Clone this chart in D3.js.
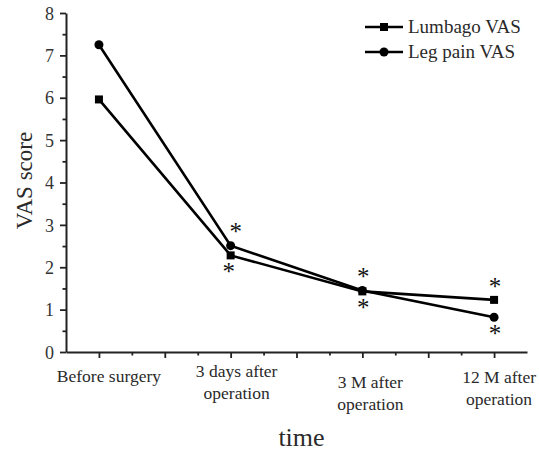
<!DOCTYPE html>
<html>
<head>
<meta charset="utf-8">
<script src="https://cdn.jsdelivr.net/npm/d3@7"></script>
<style>
  html, body { margin: 0; padding: 0; background: #fff; }
  svg { display: block; }
  text { font-family: "Liberation Serif", "Times New Roman", serif; fill: #2a2a2a; }
</style>
</head>
<body>
<svg id="chart" width="539" height="452"></svg>
<script>
// ---- data ----
const categories = [
  ["Before surgery"],
  ["3 days after", "operation"],
  ["3 M after", "operation"],
  ["12 M after", "operation"]
];
const categoryPositions = [1, 3, 5, 7];
const seriesNames = ["Lumbago VAS", "Leg pain VAS"];
const lumbagoVAS = [5.96, 2.28, 1.43, 1.23];
const legPainVAS = [7.25, 2.51, 1.45, 0.82];
const significant = [false, true, true, true];
const yTicks = [0, 1, 2, 3, 4, 5, 6, 7, 8];
const xMajorTicks = [1, 2, 3, 4, 5, 6, 7];

// ---- layout ----
const svg = d3.select("#chart");
const x = d3.scaleLinear().domain([0.5, 7.5]).range([66, 527]);
const y = d3.scaleLinear().domain([0, 8]).range([352, 13]);
const axisColor = "#222";

// y axis
const yAxis = svg.append("g").attr("transform", `translate(${x(0.5)},0)`)
  .call(d3.axisLeft(y).tickValues(yTicks).tickSize(6).tickSizeOuter(0).tickPadding(6).tickFormat(d3.format("d")));
yAxis.attr("font-family", null).attr("font-size", null);
yAxis.selectAll("text")
  .style("font-family", "'Liberation Serif', 'Times New Roman', serif")
  .style("font-size", "18px").style("fill", "#333").attr("dy", "0.34em");
const yMinor = svg.append("g").attr("transform", `translate(${x(0.5)},0)`)
  .call(d3.axisLeft(y).tickValues(d3.range(0.5, 8, 1)).tickSize(3.5).tickFormat(""));
yMinor.select(".domain").remove();

// x axis
const xAxis = svg.append("g").attr("transform", `translate(0,${y(0)})`)
  .call(d3.axisBottom(x).tickValues(xMajorTicks).tickSize(6).tickSizeOuter(0).tickFormat(""));
const xMinor = svg.append("g").attr("transform", `translate(0,${y(0)})`)
  .call(d3.axisBottom(x).tickValues(d3.range(1.5, 7, 1)).tickSize(3.5).tickFormat(""));
xMinor.select(".domain").remove();

svg.selectAll(".domain").attr("stroke", axisColor).attr("stroke-width", 2);
svg.selectAll(".tick line").attr("stroke", axisColor).attr("stroke-width", 1.8);

// category labels (per-label offsets to mimic the original placement)
const labelDx = [10, 6, 8, 5];
const labelBaseline = [382, 377, 388, 383];
categories.forEach((lines, i) => {
  const t = svg.append("text")
    .attr("x", x(categoryPositions[i]) + labelDx[i])
    .attr("y", labelBaseline[i])
    .attr("text-anchor", "middle")
    .style("font-size", "17.5px");
  lines.forEach((ln, j) => {
    t.append("tspan").attr("x", x(categoryPositions[i]) + labelDx[i])
      .attr("dy", j === 0 ? 0 : 22).text(ln);
  });
});

// axis titles
svg.append("text").attr("x", x(4) + 5).attr("y", 446)
  .attr("text-anchor", "middle").style("font-size", "26px").text("time");
svg.append("text")
  .attr("transform", `translate(32,${y(4) - 2}) rotate(-90)`)
  .attr("text-anchor", "middle").style("font-size", "23px").text("VAS score");

// lines
const series = [lumbagoVAS, legPainVAS];
const line = d3.line().x((d, i) => x(categoryPositions[i])).y(d => y(d));
series.forEach(vals => {
  svg.append("path").datum(vals).attr("d", line)
    .attr("fill", "none").attr("stroke", "#000").attr("stroke-width", 2.6);
});
// markers
svg.append("g").selectAll("rect").data(lumbagoVAS).join("rect")
  .attr("x", (d, i) => x(categoryPositions[i]) - 4)
  .attr("y", d => y(d) - 4)
  .attr("width", 8).attr("height", 8).attr("fill", "#000");
svg.append("g").selectAll("circle").data(legPainVAS).join("circle")
  .attr("cx", (d, i) => x(categoryPositions[i]))
  .attr("cy", d => y(d)).attr("r", 4.5).attr("fill", "#000");

// significance asterisks: above the higher point, below the lower point
const astFs = 25;
categoryPositions.forEach((p, i) => {
  if (!significant[i]) return;
  const hi = Math.max(lumbagoVAS[i], legPainVAS[i]);
  const lo = Math.min(lumbagoVAS[i], legPainVAS[i]);
  const cx = x(p) + 1;
  [[y(hi) - 17, i === 1 ? 4 : 0], [y(lo) + 13, i === 1 ? -3 : 0]].forEach(([cy, ddx]) => {
    svg.append("text").attr("x", cx + ddx).attr("y", cy + astFs * 0.47)
      .attr("text-anchor", "middle").style("font-size", astFs + "px")
      .style("fill", "#111").text("*");
  });
});

// legend
const legend = svg.append("g");
seriesNames.forEach((name, i) => {
  const ly = 27 + i * 25;
  legend.append("line").attr("x1", 365).attr("x2", 403).attr("y1", ly).attr("y2", ly)
    .attr("stroke", "#000").attr("stroke-width", 2.6);
  if (i === 0) {
    legend.append("rect").attr("x", 380).attr("y", ly - 4).attr("width", 8).attr("height", 8).attr("fill", "#000");
  } else {
    legend.append("circle").attr("cx", 384).attr("cy", ly).attr("r", 4.5).attr("fill", "#000");
  }
  legend.append("text").attr("x", 408).attr("y", ly + 6).style("font-size", "19px").text(name);
});
</script>
</body>
</html>
